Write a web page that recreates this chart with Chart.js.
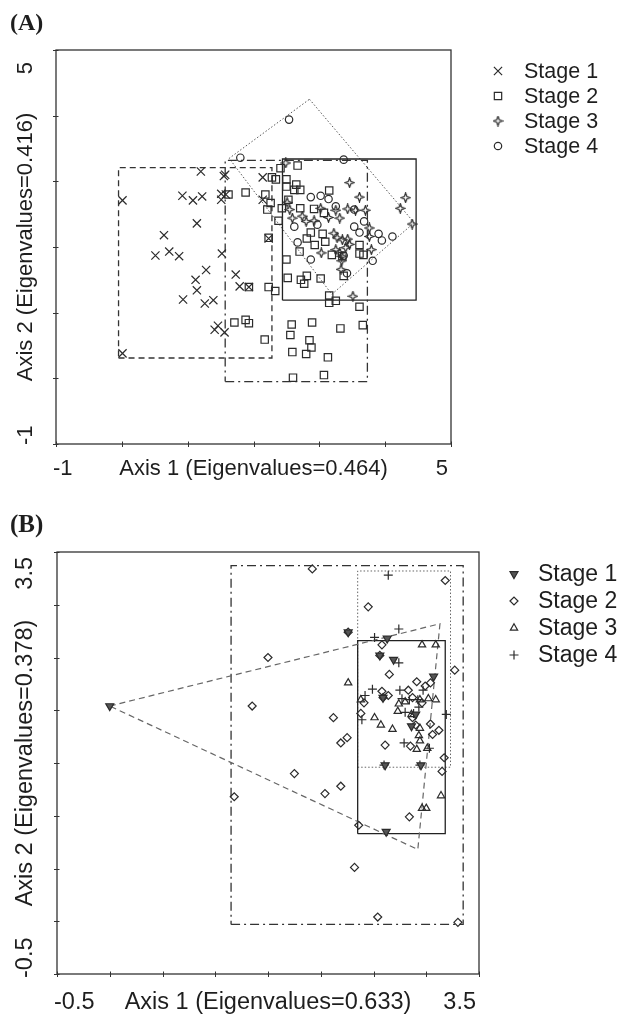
<!DOCTYPE html>
<html>
<head>
<meta charset="utf-8">
<script src="https://cdn.jsdelivr.net/npm/chart.js@4.4.1/dist/chart.umd.min.js"></script>
<style>
html, body { margin: 0; padding: 0; background: #fff; }
.panel { position: absolute; left: 0; }
#panelA { top: 0; }
#panelB { top: 500px; }
</style>
</head>
<body>
<div class="panel" id="panelA"><canvas id="chartA" width="623" height="500"></canvas></div>
<div class="panel" id="panelB"><canvas id="chartB" width="623" height="516"></canvas></div>
<script>
// ---- panel A data (axis 1, axis 2) ----
const ticksA = [-1, 0, 1, 2, 3, 4, 5];
const endLabelsA = ['-1', '5'];
const stageNames = ['Stage 1', 'Stage 2', 'Stage 3', 'Stage 4'];

const stage1A = [[0.01,2.71],[1.20,3.15],[1.55,3.08],[1.57,3.10],[0.92,2.78],[1.08,2.71],[1.22,2.77],[1.51,2.81],
  [1.51,2.72],[1.58,2.80],[2.14,3.06],[2.14,2.72],[1.14,2.36],[0.64,2.18],[0.51,1.87],[0.72,1.93],[0.87,1.86],
  [1.52,1.90],[2.23,2.13],[1.28,1.65],[1.12,1.50],[1.14,1.34],[0.93,1.20],[1.26,1.14],[1.39,1.19],[1.73,1.58],
  [1.79,1.40],[1.93,1.39],[1.46,0.80],[1.41,0.74],[1.56,0.70],[0.01,0.38]];
const stage2A = [[2.67,3.24],[2.41,3.20],[2.28,3.06],[2.34,3.03],[2.50,3.03],[2.50,2.92],[2.65,2.95],[2.62,2.87],
  [2.71,2.87],[3.15,2.86],[1.88,2.83],[1.62,2.80],[2.18,2.80],[2.26,2.67],[2.21,2.57],[2.43,2.59],[2.53,2.72],
  [2.38,2.40],[2.71,2.59],[2.92,2.58],[3.07,2.52],[2.23,2.14],[2.87,2.22],[2.81,2.13],[2.93,2.03],[3.09,2.08],
  [3.05,2.20],[2.70,1.93],[3.19,1.88],[3.35,1.86],[3.61,2.03],[3.67,1.88],[3.61,1.90],[2.50,1.81],[2.52,1.53],
  [2.72,1.50],[2.77,1.44],[2.81,1.56],[3.02,1.52],[3.37,1.56],[2.23,1.39],[2.33,1.33],[3.15,1.26],[3.15,1.15],
  [3.25,1.18],[3.61,1.09],[1.93,1.39],[1.71,0.85],[1.88,0.89],[1.93,0.84],[2.58,0.82],[2.89,0.85],[3.32,0.76],
  [3.66,0.81],[2.56,0.66],[2.17,0.59],[2.85,0.58],[2.88,0.47],[2.59,0.40],[2.80,0.37],[3.13,0.32],[2.60,0.01],
  [3.07,0.05]];
const stage3A = [[2.49,3.28],[3.46,2.98],[3.61,2.76],[4.31,2.75],[4.23,2.59],[4.41,2.35],[2.51,2.68],[2.55,2.57],
  [2.59,2.44],[2.74,2.47],[2.80,2.39],[2.92,2.40],[3.02,2.59],[3.25,2.56],[3.31,2.44],[3.43,2.58],[3.55,2.56],
  [3.70,2.56],[3.22,2.21],[3.27,2.14],[3.35,2.11],[3.43,2.12],[3.46,2.04],[3.76,2.29],[3.76,2.16],[3.79,1.96],
  [3.25,1.96],[3.31,1.91],[3.34,1.86],[3.40,1.99],[3.34,1.79],[3.03,1.91],[3.33,1.66],[3.51,1.25],[3.14,2.45]];
const stage4A = [[2.54,3.94],[1.80,3.36],[3.37,3.33],[3.02,2.78],[3.14,2.73],[2.87,2.76],[3.53,2.57],[2.62,2.31],
  [2.97,2.34],[3.53,2.31],[3.68,2.39],[3.61,2.22],[3.90,2.20],[3.95,2.10],[4.11,2.16],[2.67,2.07],[2.87,1.81],
  [3.81,1.79],[3.42,1.60],[3.37,1.87],[3.25,2.62]];
// envelopes drawn around each stage
const hull1A = [[-0.05,0.31],[2.28,0.31],[2.28,3.21],[-0.05,3.21]];
const hull2A = [[1.57,-0.05],[3.73,-0.05],[3.73,3.32],[1.57,3.32]];
const hull3A = [[2.44,1.19],[4.47,1.19],[4.47,3.34],[2.44,3.34]];
const hull4A = [[2.85,4.25],[4.44,2.37],[3.19,1.28],[1.63,3.35]];

// ---- panel B data ----
const ticksB = [-0.5, 0, 0.5, 1, 1.5, 2, 2.5, 3, 3.5];
const endLabelsB = ['-0.5', '3.5'];

const stage1B = [[0.00,2.04],[2.26,2.74],[2.63,2.68],[2.56,2.52],[2.69,2.48],[2.59,2.12],[3.07,2.32],[2.86,1.85],
  [2.61,1.48],[2.95,1.48],[2.62,0.85],[2.90,1.96]];
const stage2B = [[1.92,3.34],[3.18,3.23],[2.45,2.98],[1.50,2.50],[1.35,2.04],[3.27,2.38],[2.58,2.62],[2.65,2.34],
  [2.91,2.27],[2.83,2.19],[2.99,2.23],[3.04,2.26],[2.58,2.18],[2.64,2.14],[2.87,2.12],[2.96,2.07],[2.41,2.07],
  [2.38,1.97],[2.12,1.93],[2.25,1.74],[2.19,1.69],[2.87,1.93],[2.90,1.86],[3.04,1.87],[3.12,1.81],[3.06,1.77],
  [2.61,1.67],[2.85,1.66],[3.17,1.55],[3.15,1.42],[1.75,1.40],[2.19,1.28],[2.04,1.21],[1.18,1.18],[2.36,0.91],
  [2.84,0.99],[2.32,0.51],[2.54,0.04],[3.30,-0.01],[2.26,2.74],[2.56,2.52],[2.59,2.12]];
const stage3B = [[2.96,2.62],[3.09,2.62],[2.26,2.26],[2.38,2.10],[2.51,1.93],[2.57,1.86],[2.68,1.82],[2.74,2.06],
  [2.73,1.99],[2.94,2.10],[3.02,2.11],[3.09,2.10],[2.94,1.83],[2.93,1.76],[2.94,1.71],[2.91,1.63],[3.01,1.64],
  [3.14,1.19],[2.96,1.07],[3.00,1.07],[2.80,2.08],[2.86,1.96]];
const stage4B = [[2.64,3.28],[2.74,2.77],[2.51,2.69],[2.74,2.45],[2.49,2.20],[2.42,2.14],[2.77,2.11],[2.75,2.19],
  [2.84,2.10],[2.80,1.98],[2.88,1.97],[2.93,2.03],[2.92,2.10],[3.19,1.96],[2.39,1.91],[2.79,1.69],[3.03,1.64],
  [2.60,1.48],[2.94,1.48],[2.97,2.19]];
const hull1B = [[0.00,2.04],[3.13,2.82],[2.92,0.68]];
const hull2B = [[1.15,-0.03],[3.35,-0.03],[3.35,3.37],[1.15,3.37]];
const hull3B = [[2.35,0.83],[3.18,0.83],[3.18,2.66],[2.35,2.66]];
const hull4B = [[2.35,1.46],[3.23,1.46],[3.23,3.32],[2.35,3.32]];

const INK = '#2b2b2b';
const FONT = '"Liberation Sans", Arial, sans-serif';

const pts = arr => arr.map(p => ({ x: p[0], y: p[1] }));
const ring = arr => pts(arr.concat([arr[0]]));

// 4-point open star used for stage 3 in panel A
function starImage(size) {
    const c = document.createElement('canvas');
    c.width = c.height = size;
    const g = c.getContext('2d');
    const m = size / 2, R = size / 2 - 0.8, r = R * 0.38;
    g.beginPath();
    for (let i = 0; i < 8; i++) {
        const ang = -Math.PI / 2 + i * Math.PI / 4;
        const rad = i % 2 ? r : R;
        g.lineTo(m + rad * Math.cos(ang), m + rad * Math.sin(ang));
    }
    g.closePath();
    g.strokeStyle = INK;
    g.lineWidth = 1.2;
    g.stroke();
    return c;
}

function scatterSet(data, style) {
    return Object.assign({
        data: pts(data),
        borderColor: INK,
        backgroundColor: 'rgba(0,0,0,0)',
        pointBorderWidth: 1.2,
    }, style);
}

function hullSet(corners, dash, color, width) {
    return {
        data: ring(corners),
        showLine: true,
        borderColor: color,
        borderWidth: width,
        borderDash: dash,
        pointRadius: 0,
        fill: false,
        tension: 0,
    };
}

//axis frame, ticks, end labels, titles and legend
function decoPlugin(o) {
    return {
        id: 'deco',
        afterDraw(chart) {
            const ctx = chart.ctx;
            const a = chart.chartArea;
            const sx = chart.scales.x, sy = chart.scales.y;
            ctx.save();
            ctx.strokeStyle = '#333';
            ctx.lineWidth = 1.3;
            ctx.setLineDash([]);
            ctx.strokeRect(a.left, a.top, a.right - a.left, a.bottom - a.top);
            ctx.lineWidth = 1;
            o.ticks.forEach(v => {
                const px = Math.round(sx.getPixelForValue(v)) + 0.5;
                ctx.beginPath(); ctx.moveTo(px, a.bottom - 2.5); ctx.lineTo(px, a.bottom + 3); ctx.stroke();
                const py = Math.round(sy.getPixelForValue(v)) + 0.5;
                ctx.beginPath(); ctx.moveTo(a.left - 3, py); ctx.lineTo(a.left + 2.5, py); ctx.stroke();
            });

            ctx.fillStyle = '#1e1e1e';
            ctx.font = o.size + 'px ' + FONT;
            ctx.textBaseline = 'alphabetic';
            ctx.textAlign = 'left';
            ctx.fillText(o.endLabels[0], a.left - 3, o.xBase);
            ctx.textAlign = 'right';
            ctx.fillText(o.endLabels[1], a.right - 3, o.xBase);
            ctx.textAlign = 'center';
            ctx.fillText(o.xTitle, (a.left + a.right) / 2, o.xBase);

            ctx.save();
            ctx.translate(o.yBase, 0);
            ctx.rotate(-Math.PI / 2);
            ctx.textAlign = 'left';
            ctx.fillText(o.endLabels[0], -(a.bottom + o.yLowGap), 0);
            ctx.textAlign = 'right';
            ctx.fillText(o.endLabels[1], -(a.top + o.yHighGap), 0);
            ctx.textAlign = 'center';
            ctx.fillText(o.yTitle, -(a.top + a.bottom) / 2, 0);
            ctx.restore();

            ctx.font = 'bold ' + o.tagSize + 'px "Liberation Serif", "Times New Roman", serif';
            ctx.textAlign = 'left';
            ctx.fillText(o.tag, 10, o.tagBase);

            // legend
            ctx.font = o.legendSize + 'px ' + FONT;
            ctx.textBaseline = 'middle';
            stageNames.forEach((name, i) => {
                const ds = chart.data.datasets[i];
                const y = o.legendY + i * o.legendGap;
                ctx.strokeStyle = ds.borderColor;
                ctx.fillStyle = ds.backgroundColor;
                ctx.lineWidth = ds.pointBorderWidth;
                const opts = {
                    pointStyle: ds.pointStyle,
                    rotation: ds.rotation || 0,
                    radius: ds.pointRadius,
                    borderWidth: ds.pointBorderWidth,
                };
                if (Chart.helpers && Chart.helpers.drawPoint) {
                    Chart.helpers.drawPoint(ctx, opts, o.legendX, y);
                }
                ctx.fillStyle = '#1e1e1e';
                ctx.fillText(name, o.legendX + o.textGap, y + 1);
            });
            ctx.restore();
        },
    };
}

function options(min, max, pad) {
    return {
        responsive: false,
        animation: false,
        events: [],
        layout: { padding: pad },
        plugins: { legend: { display: false }, tooltip: { enabled: false } },
        scales: {
            x: { type: 'linear', min: min, max: max, display: false },
            y: { type: 'linear', min: min, max: max, display: false },
        },
    };
}

// ---- panel A ----
new Chart(document.getElementById('chartA'), {
    type: 'scatter',
    data: {
        datasets: [
            scatterSet(stage1A, { pointStyle: 'crossRot', pointRadius: 5.8 }),
            scatterSet(stage2A, { pointStyle: 'rect', pointRadius: 5.2 }),
            scatterSet(stage3A, { pointStyle: starImage(11), pointRadius: 4 }),
            scatterSet(stage4A, { pointStyle: 'circle', pointRadius: 3.7 }),
            hullSet(hull1A, [6, 4], '#333', 1.3),
            hullSet(hull2A, [9, 4, 2, 4], '#333', 1.3),
            hullSet(hull3A, [], '#222', 1.3),
            hullSet(hull4A, [1.5, 2], '#555', 1),
        ],
    },
    options: options(-1, 5, { left: 56, top: 50, right: 172, bottom: 56 }),
    plugins: [decoPlugin({
        ticks: ticksA, endLabels: endLabelsA, size: 22, legendSize: 21.5,
        xTitle: 'Axis 1 (Eigenvalues=0.464)', yTitle: 'Axis 2 (Eigenvalues=0.416)',
        xBase: 475, yBase: 32, yLowGap: 1, yHighGap: 12,
        tag: '(A)', tagSize: 24, tagBase: 30,
        legendX: 498, legendY: 71, legendGap: 25, textGap: 26,
    })],
});

// ---- panel B ----
new Chart(document.getElementById('chartB'), {
    type: 'scatter',
    data: {
        datasets: [
            scatterSet(stage1B, { pointStyle: 'triangle', rotation: 180, pointRadius: 4.6, backgroundColor: '#555' }),
            scatterSet(stage2B, { pointStyle: 'rectRot', pointRadius: 4 }),
            scatterSet(stage3B, { pointStyle: 'triangle', pointRadius: 4.2 }),
            scatterSet(stage4B, { pointStyle: 'cross', pointRadius: 4.5 }),
            hullSet(hull1B, [6, 4], '#666', 1.2),
            hullSet(hull2B, [9, 4, 2, 4], '#333', 1.3),
            hullSet(hull3B, [], '#222', 1.3),
            hullSet(hull4B, [1.5, 2], '#666', 1),
        ],
    },
    options: options(-0.5, 3.5, { left: 57, top: 52, right: 144, bottom: 42 }),
    plugins: [decoPlugin({
        ticks: ticksB, endLabels: endLabelsB, size: 23.5, legendSize: 23,
        xTitle: 'Axis 1 (Eigenvalues=0.633)', yTitle: 'Axis 2 (Eigenvalues=0.378)',
        xBase: 509, yBase: 32, yLowGap: 4, yHighGap: 5,
        tag: '(B)', tagSize: 25, tagBase: 32,
        legendX: 514, legendY: 74, legendGap: 27, textGap: 24,
    })],
});
</script>
</body>
</html>
